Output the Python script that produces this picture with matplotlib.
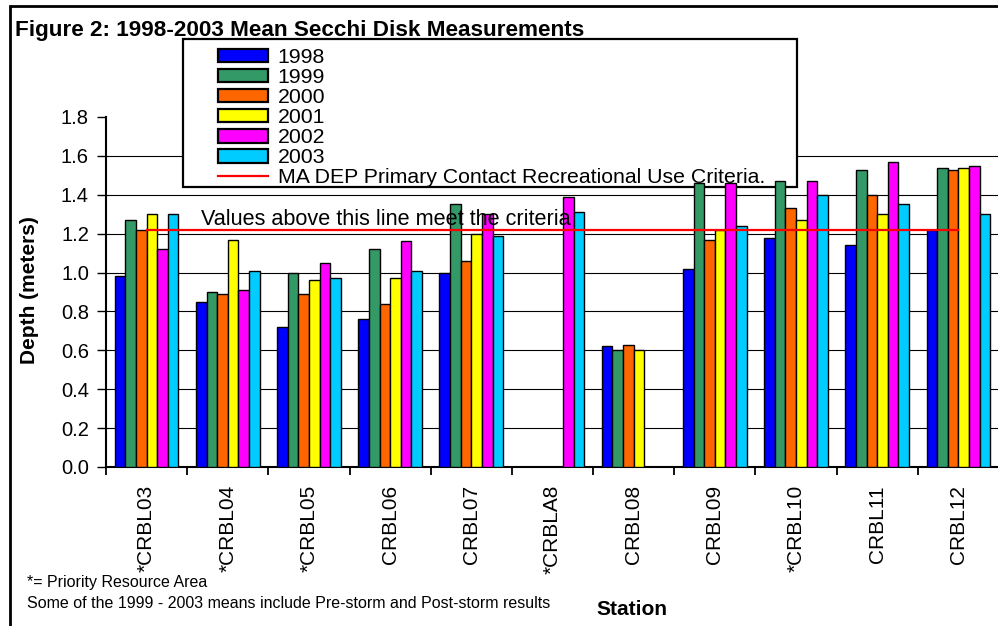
import numpy as np
import matplotlib
matplotlib.use("Agg")
import matplotlib.pyplot as plt
from matplotlib.patches import Rectangle

plt.rcParams['font.family'] = ['Liberation Sans', 'DejaVu Sans']

nan = np.nan
stations = ['*CRBL03', '*CRBL04', '*CRBL05', 'CRBL06', 'CRBL07', '*CRBLA8',
            'CRBL08', 'CRBL09', '*CRBL10', 'CRBL11', 'CRBL12']
years = ['1998', '1999', '2000', '2001', '2002', '2003']
d1998 = [0.98, 0.85, 0.72, 0.76, 1.00, nan, 0.62, 1.02, 1.18, 1.14, 1.22]
d1999 = [1.27, 0.90, 1.00, 1.12, 1.35, nan, 0.60, 1.46, 1.47, 1.53, 1.54]
d2000 = [1.22, 0.89, 0.89, 0.84, 1.06, nan, 0.63, 1.17, 1.33, 1.40, 1.53]
d2001 = [1.30, 1.17, 0.96, 0.97, 1.20, nan, 0.60, 1.22, 1.27, 1.30, 1.54]
d2002 = [1.12, 0.91, 1.05, 1.16, 1.30, 1.39, nan, 1.46, 1.47, 1.57, 1.55]
d2003 = [1.30, 1.01, 0.97, 1.01, 1.19, 1.31, nan, 1.24, 1.40, 1.35, 1.30]
criteria = [1.22, 1.22, 1.22, 1.22, 1.22, 1.22, 1.22, 1.22, 1.22, 1.22, 1.22]
criteria_label = 'MA DEP Primary Contact Recreational Use Criteria.'
yticks = [0.0, 0.2, 0.4, 0.6, 0.8, 1.0, 1.2, 1.4, 1.6, 1.8]

series = [d1998, d1999, d2000, d2001, d2002, d2003]
colors = ['#0000FF', '#339966', '#FF6600', '#FFFF00', '#FF00FF', '#00CCFF']

W, H = 998, 626
fig = plt.figure(figsize=(W / 100, H / 100), dpi=100)
fig.patch.set_facecolor('white')

def fx(px):
    return px / W

def fy(py):
    return 1 - py / H

ax = fig.add_axes([fx(106), fy(467), fx(999) - fx(106), fy(117) - fy(467)])
ax.set_facecolor('none')

x = np.arange(len(stations))
bw = 0.131
handles = []
for j, (vals, c, yr) in enumerate(zip(series, colors, years)):
    v = np.array(vals, dtype=float)
    m = ~np.isnan(v)
    b = ax.bar(x[m] + (j - 2.5) * bw, v[m], width=bw, color=c, edgecolor='black',
               linewidth=1.0, label=yr, zorder=5)
    handles.append(b)

ln, = ax.plot(x, criteria, color='#FF0000', linewidth=1.6, label=criteria_label, zorder=6)
handles.append(ln)

ax.set_xlim(-0.5, len(stations) - 0.5)
ax.set_ylim(0, 1.8)
ax.set_yticks(yticks)
ax.set_yticklabels([f'{t:.1f}' for t in yticks], fontsize=14.5)
ax.set_xticks(np.arange(len(stations) + 1) - 0.5)
ax.set_xticklabels([])
ax.set_xticks(x, minor=True)
ax.set_xticklabels(stations, minor=True, rotation=90, fontsize=15)
ax.tick_params(axis='x', which='major', length=6, width=1.3, direction='out')
ax.tick_params(axis='x', which='minor', length=0, pad=13)
ax.tick_params(axis='y', length=6.5, width=1.0, pad=5.8)

ax.set_axisbelow(True)
ax.yaxis.grid(True, color='black', linewidth=0.8)
ax.get_ygridlines()[-1].set_visible(False)
for s in ['top', 'right']:
    ax.spines[s].set_visible(False)
ax.spines['left'].set_linewidth(1.5)
ax.spines['bottom'].set_linewidth(1.5)

# legend frame
frame = Rectangle((fx(183), fy(187)), fx(797) - fx(183), fy(39) - fy(187),
                  transform=fig.transFigure, facecolor='white', edgecolor='black',
                  linewidth=1.6, zorder=4, clip_on=False)
ax.add_patch(frame)

leg = ax.legend(handles=handles, labels=years + [criteria_label],
                loc='upper left', bbox_to_anchor=(fx(218), fy(48)),
                bbox_transform=fig.transFigure, frameon=False, fontsize=15.3,
                borderpad=0, borderaxespad=0, labelspacing=0.05,
                handlelength=2.35, handleheight=0.6, handletextpad=0.45)
leg.set_zorder(7)
for h in leg.legend_handles[:6]:
    h.set_linewidth(1.6)

fig.text(fx(201), fy(225), 'Values above this line meet the criteria',
         fontsize=15.6, va='baseline', ha='left', zorder=8)

fig.text(fx(15), fy(36), 'Figure 2: 1998-2003 Mean Secchi Disk Measurements',
         fontsize=16.2, fontweight='bold', va='baseline', ha='left')
fig.text(fx(30), fy(290), 'Depth (meters)', fontsize=15, fontweight='bold',
         rotation=90, ha='center', va='center')
fig.text(fx(632), fy(615), 'Station', fontsize=15, fontweight='bold',
         ha='center', va='baseline')
fig.text(fx(27), fy(586.5), '*= Priority Resource Area', fontsize=11.5,
         ha='left', va='baseline')
fig.text(fx(27), fy(608), 'Some of the 1999 - 2003 means include Pre-storm and Post-storm results',
         fontsize=11.5, ha='left', va='baseline')

border = Rectangle((fx(10), fy(660)), fx(1040) - fx(10), fy(6) - fy(660),
                   transform=fig.transFigure, facecolor='none', edgecolor='black',
                   linewidth=2.0, clip_on=False)
fig.patches.append(border)

fig.savefig('out.png', dpi=100)
